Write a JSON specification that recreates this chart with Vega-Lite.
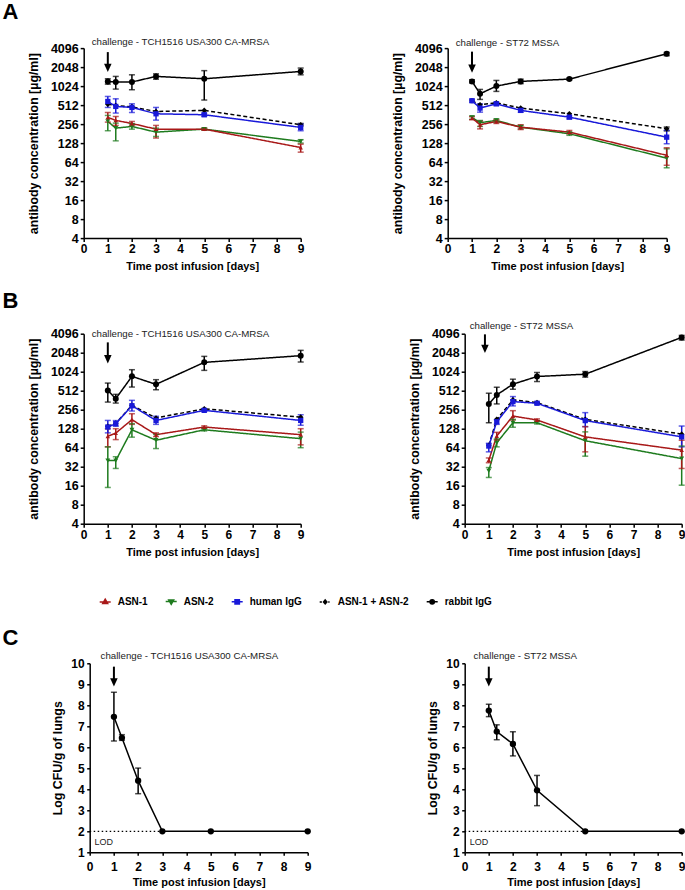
{
"$schema": "https://vega.github.io/schema/vega-lite/v6.json",
"padding": {"left": 1.7, "top": 1.1, "right": 0, "bottom": 0},
"background": "white",
"config": {
  "view": {"stroke": null},
  "font": "Liberation Sans",
  "axis": {"domainColor": "black", "domainWidth": 1.5, "tickColor": "black", "tickWidth": 1.5, "tickSize": 3.5, "labelFont": "Liberation Sans", "labelFontWeight": "bold", "labelFontSize": 12, "labelColor": "black", "labelPadding": 2, "titleFont": "Liberation Sans", "titleFontWeight": "bold", "titleFontSize": 12.4, "titleColor": "black", "grid": false, "labelFlush": false, "labelOverlap": false, "tickCount": 20},
  "legend": {"orient": "none", "legendX": 14, "legendY": 260, "direction": "horizontal", "padding": 1, "columnPadding": 14, "labelFont": "Liberation Sans", "labelFontWeight": "bold", "labelFontSize": 10, "labelColor": "black", "labelOffset": 6, "symbolSize": 121, "symbolOpacity": 1}
},
"datasets": {
  "A1": [
    {"g":"ASN-2","t":1,"v":282,"lo":201,"hi":351},{"g":"ASN-2","t":1.33,"v":221,"lo":139,"hi":265},{"g":"ASN-2","t":2,"v":235,"lo":213,"hi":260},{"g":"ASN-2","t":3,"v":191,"lo":163,"hi":221},{"g":"ASN-2","t":5,"v":213,"lo":205,"hi":221},{"g":"ASN-2","t":9,"v":136,"lo":128,"hi":145},
    {"g":"ASN-1","t":1,"v":327,"lo":275,"hi":391},{"g":"ASN-1","t":1.33,"v":293,"lo":244,"hi":338},{"g":"ASN-1","t":2,"v":262,"lo":244,"hi":282},{"g":"ASN-1","t":3,"v":213,"lo":154,"hi":244},{"g":"ASN-1","t":5,"v":213,"lo":205,"hi":221},{"g":"ASN-1","t":9,"v":109,"lo":92,"hi":123},
    {"g":"ASN-1 + ASN-2","t":1,"v":530},{"g":"ASN-1 + ASN-2","t":1.33,"v":505},{"g":"ASN-1 + ASN-2","t":2,"v":480},{"g":"ASN-1 + ASN-2","t":3,"v":406},{"g":"ASN-1 + ASN-2","t":5,"v":422},{"g":"ASN-1 + ASN-2","t":9,"v":250,"lo":240,"hi":262},
    {"g":"human IgG","t":1,"v":585,"lo":470,"hi":702},{"g":"human IgG","t":1.33,"v":488,"lo":383,"hi":644},{"g":"human IgG","t":2,"v":470,"lo":391,"hi":537},{"g":"human IgG","t":3,"v":373,"lo":296,"hi":470},{"g":"human IgG","t":5,"v":360,"lo":340,"hi":380},{"g":"human IgG","t":9,"v":227,"lo":201,"hi":256},
    {"g":"rabbit IgG","t":1,"v":1215,"lo":1100,"hi":1338},{"g":"rabbit IgG","t":1.33,"v":1190,"lo":918,"hi":1458},{"g":"rabbit IgG","t":2,"v":1190,"lo":897,"hi":1546},{"g":"rabbit IgG","t":3,"v":1458,"lo":1318,"hi":1600},{"g":"rabbit IgG","t":5,"v":1338,"lo":616,"hi":1800},{"g":"rabbit IgG","t":9,"v":1747,"lo":1546,"hi":1978}
  ],
  "A2": [
    {"g":"ASN-2","t":1,"v":326,"lo":305,"hi":345},{"g":"ASN-2","t":1.33,"v":269,"lo":235,"hi":292},{"g":"ASN-2","t":2,"v":293,"lo":275,"hi":310},{"g":"ASN-2","t":3,"v":229,"lo":215,"hi":245},{"g":"ASN-2","t":5,"v":180,"lo":170,"hi":192},{"g":"ASN-2","t":9,"v":74,"lo":52,"hi":104},
    {"g":"ASN-1","t":1,"v":319,"lo":300,"hi":335},{"g":"ASN-1","t":1.33,"v":250,"lo":215,"hi":285},{"g":"ASN-1","t":2,"v":282,"lo":262,"hi":300},{"g":"ASN-1","t":3,"v":229,"lo":210,"hi":250},{"g":"ASN-1","t":5,"v":191,"lo":180,"hi":203},{"g":"ASN-1","t":9,"v":82,"lo":57,"hi":108},
    {"g":"ASN-1 + ASN-2","t":1,"v":600},{"g":"ASN-1 + ASN-2","t":1.33,"v":518},{"g":"ASN-1 + ASN-2","t":2,"v":556},{"g":"ASN-1 + ASN-2","t":3,"v":459},{"g":"ASN-1 + ASN-2","t":5,"v":373},{"g":"ASN-1 + ASN-2","t":9,"v":216,"lo":200,"hi":230},
    {"g":"human IgG","t":1,"v":600,"lo":570,"hi":630},{"g":"human IgG","t":1.33,"v":459,"lo":396,"hi":537},{"g":"human IgG","t":2,"v":537,"lo":505,"hi":570},{"g":"human IgG","t":3,"v":422,"lo":395,"hi":450},{"g":"human IgG","t":5,"v":330,"lo":310,"hi":345},{"g":"human IgG","t":9,"v":159,"lo":125,"hi":204},
    {"g":"rabbit IgG","t":1,"v":1215,"lo":1150,"hi":1290},{"g":"rabbit IgG","t":1.33,"v":774,"lo":630,"hi":907},{"g":"rabbit IgG","t":2,"v":1024,"lo":844,"hi":1259},{"g":"rabbit IgG","t":3,"v":1215,"lo":1120,"hi":1320},{"g":"rabbit IgG","t":5,"v":1322,"lo":1280,"hi":1370},{"g":"rabbit IgG","t":9,"v":3330,"lo":3100,"hi":3500}
  ],
  "B1": [
    {"g":"ASN-2","t":1,"v":40,"lo":15,"hi":66},{"g":"ASN-2","t":1.33,"v":40,"lo":30,"hi":46},{"g":"ASN-2","t":2,"v":123,"lo":94,"hi":154},{"g":"ASN-2","t":3,"v":84,"lo":62,"hi":104},{"g":"ASN-2","t":5,"v":123,"lo":118,"hi":128},{"g":"ASN-2","t":9,"v":89,"lo":64,"hi":113},
    {"g":"ASN-1","t":1,"v":97,"lo":66,"hi":128},{"g":"ASN-1","t":1.33,"v":109,"lo":86,"hi":128},{"g":"ASN-1","t":2,"v":178,"lo":150,"hi":221},{"g":"ASN-1","t":3,"v":103,"lo":96,"hi":110},{"g":"ASN-1","t":5,"v":136,"lo":130,"hi":142},{"g":"ASN-1","t":9,"v":103,"lo":71,"hi":128},
    {"g":"ASN-1 + ASN-2","t":1,"v":140},{"g":"ASN-1 + ASN-2","t":1.33,"v":155},{"g":"ASN-1 + ASN-2","t":2,"v":300},{"g":"ASN-1 + ASN-2","t":3,"v":189},{"g":"ASN-1 + ASN-2","t":5,"v":265},{"g":"ASN-1 + ASN-2","t":9,"v":195},
    {"g":"human IgG","t":1,"v":136,"lo":110,"hi":173},{"g":"human IgG","t":1.33,"v":154,"lo":140,"hi":172},{"g":"human IgG","t":2,"v":296,"lo":244,"hi":360},{"g":"human IgG","t":3,"v":173,"lo":150,"hi":201},{"g":"human IgG","t":5,"v":250,"lo":240,"hi":262},{"g":"human IgG","t":9,"v":173,"lo":145,"hi":213},
    {"g":"rabbit IgG","t":1,"v":518,"lo":338,"hi":676},{"g":"rabbit IgG","t":1.33,"v":382,"lo":326,"hi":448},{"g":"rabbit IgG","t":2,"v":864,"lo":585,"hi":1101},{"g":"rabbit IgG","t":3,"v":645,"lo":530,"hi":765},{"g":"rabbit IgG","t":5,"v":1439,"lo":1075,"hi":1791},{"g":"rabbit IgG","t":9,"v":1836,"lo":1458,"hi":2230}
  ],
  "B2": [
    {"g":"ASN-2","t":1,"v":27.5,"lo":21.6,"hi":31},{"g":"ASN-2","t":1.33,"v":76.6,"lo":66,"hi":88},{"g":"ASN-2","t":2,"v":159,"lo":135,"hi":180},{"g":"ASN-2","t":3,"v":159,"lo":152,"hi":166},{"g":"ASN-2","t":5,"v":82.5,"lo":47,"hi":114},{"g":"ASN-2","t":9,"v":43,"lo":16.3,"hi":68},
    {"g":"ASN-1","t":1,"v":40.6,"lo":37,"hi":44},{"g":"ASN-1","t":1.33,"v":98,"lo":85,"hi":112},{"g":"ASN-1","t":2,"v":203,"lo":176,"hi":247},{"g":"ASN-1","t":3,"v":176,"lo":170,"hi":183},{"g":"ASN-1","t":5,"v":95,"lo":55,"hi":138},{"g":"ASN-1","t":9,"v":58.6,"lo":30,"hi":84},
    {"g":"ASN-1 + ASN-2","t":1,"v":70},{"g":"ASN-1 + ASN-2","t":1.33,"v":180},{"g":"ASN-1 + ASN-2","t":2,"v":366},{"g":"ASN-1 + ASN-2","t":3,"v":332},{"g":"ASN-1 + ASN-2","t":5,"v":180},{"g":"ASN-1 + ASN-2","t":9,"v":105},
    {"g":"human IgG","t":1,"v":68,"lo":55,"hi":75},{"g":"human IgG","t":1.33,"v":165,"lo":150,"hi":178},{"g":"human IgG","t":2,"v":344,"lo":294,"hi":413},{"g":"human IgG","t":3,"v":324,"lo":310,"hi":338},{"g":"human IgG","t":5,"v":172,"lo":138,"hi":230},{"g":"human IgG","t":9,"v":95,"lo":66,"hi":141},
    {"g":"rabbit IgG","t":1,"v":316,"lo":159,"hi":467},{"g":"rabbit IgG","t":1.33,"v":439,"lo":316,"hi":581},{"g":"rabbit IgG","t":2,"v":649,"lo":540,"hi":779},{"g":"rabbit IgG","t":3,"v":859,"lo":715,"hi":995},{"g":"rabbit IgG","t":5,"v":935,"lo":840,"hi":1030},{"g":"rabbit IgG","t":9,"v":3580,"lo":3250,"hi":3850}
  ],
  "C1": [
    {"t":1,"v":7.45,"lo":6.3,"hi":8.62},{"t":1.33,"v":6.45,"lo":6.33,"hi":6.6},{"t":2,"v":4.41,"lo":3.79,"hi":5.01},{"t":3,"v":2},{"t":5,"v":2},{"t":9,"v":2}
  ],
  "C2": [
    {"t":1,"v":7.75,"lo":7.46,"hi":8.05},{"t":1.33,"v":6.75,"lo":6.36,"hi":7.07},{"t":2,"v":6.16,"lo":5.59,"hi":6.74},{"t":3,"v":3.95,"lo":3.22,"hi":4.66},{"t":5,"v":2},{"t":9,"v":2}
  ]
},
"spacing": 17.6,
"bounds": "full",
"resolve": {"scale": {"color": "independent", "shape": "independent", "size": "independent", "strokeDash": "independent"}, "legend": {"color": "independent"}},
"vconcat": [
 {"hconcat": [
  {
    "width": 217, "height": 190, "data": {"name": "A1"},
    "layer": [
      {"mark": {"type": "line", "strokeWidth": 1.5}, "encoding": {
        "x": {"field": "t", "type": "quantitative", "scale": {"domain": [0, 9], "nice": false, "zero": false}, "axis": {"values": [0,1,2,3,4,5,6,7,8,9], "format": "d", "tickCount": 20, "labelOverlap": false, "title": "Time post infusion [days]", "titleFontSize": 11, "titlePadding": 6}},
        "y": {"field": "v", "type": "quantitative", "scale": {"type": "log", "base": 2, "domain": [4, 4096], "nice": false}, "axis": {"values": [4,8,16,32,64,128,256,512,1024,2048,4096], "tickCount": 20, "labelOverlap": false, "format": "d", "title": "antibody concentration [µg/ml]", "titlePadding": 10, "labelFontSize": 12.5}},
        "color": {"field": "g", "type": "nominal", "scale": {"domain": ["ASN-1","ASN-2","human IgG","ASN-1 + ASN-2","rabbit IgG"], "range": ["#a81818","#1e7b1e","#1919d9","#000000","#000000"]}, "legend": null},
        "strokeDash": {"field": "g", "type": "nominal", "scale": {"domain": ["rabbit IgG","ASN-1 + ASN-2","human IgG","ASN-2","ASN-1"], "range": [[1,0],[4,2.5],[1,0],[1,0],[1,0]]}, "legend": null}
      }},
      {"mark": {"type": "rule", "strokeWidth": 1.5}, "encoding": {"x": {"field": "t", "type": "quantitative"}, "y": {"field": "lo", "type": "quantitative"}, "y2": {"field": "hi"}, "color": {"field": "g", "type": "nominal", "legend": null}}},
      {"mark": {"type": "tick", "orient": "horizontal", "size": 6, "thickness": 1.5}, "encoding": {"x": {"field": "t", "type": "quantitative"}, "y": {"field": "lo", "type": "quantitative"}, "color": {"field": "g", "type": "nominal", "legend": null}}},
      {"mark": {"type": "tick", "orient": "horizontal", "size": 6, "thickness": 1.5}, "encoding": {"x": {"field": "t", "type": "quantitative"}, "y": {"field": "hi", "type": "quantitative"}, "color": {"field": "g", "type": "nominal", "legend": null}}},
      {"mark": {"type": "point", "filled": true, "opacity": 1}, "encoding": {"x": {"field": "t", "type": "quantitative"}, "y": {"field": "v", "type": "quantitative"}, "color": {"field": "g", "type": "nominal", "legend": null},
        "shape": {"field": "g", "type": "nominal", "scale": {"domain": ["rabbit IgG","ASN-1 + ASN-2","human IgG","ASN-2","ASN-1"], "range": ["circle","diamond","square","triangle-down","triangle-up"]}, "legend": null},
        "size": {"field": "g", "type": "ordinal", "scale": {"domain": ["rabbit IgG","ASN-1 + ASN-2","human IgG","ASN-2","ASN-1"], "range": [36,20,45,38,38]}, "legend": null}}},
      {"data": {"values": [{}]}, "mark": {"type": "rule", "strokeWidth": 2, "color": "black"}, "encoding": {"x": {"datum": 1}, "y": {"datum": 3540}, "y2": {"datum": 1990}}},
      {"data": {"values": [{}]}, "mark": {"type": "point", "shape": "M-0.9,-1L0.9,-1L0,1Z", "size": 70, "filled": true, "color": "black", "opacity": 1}, "encoding": {"x": {"datum": 1}, "y": {"datum": 1990}}},
      {"data": {"values": [{}]}, "mark": {"type": "text", "text": "challenge - TCH1516 USA300 CA-MRSA", "align": "left", "baseline": "alphabetic", "fontSize": 9.7, "color": "#222"}, "encoding": {"x": {"datum": 0.33}, "y": {"datum": 4570}}},
      {"data": {"values": [{}]}, "mark": {"type": "text", "text": "A", "align": "left", "baseline": "top", "fontSize": 22, "fontWeight": "bold", "color": "black"}, "encoding": {"x": {"datum": -3.372}, "y": {"datum": 21860}}}
    ]
  },
  {
    "width": 219, "height": 190, "data": {"name": "A2"},
    "layer": [
      {"mark": {"type": "line", "strokeWidth": 1.5}, "encoding": {
        "x": {"field": "t", "type": "quantitative", "scale": {"domain": [0, 9], "nice": false, "zero": false}, "axis": {"values": [0,1,2,3,4,5,6,7,8,9], "format": "d", "tickCount": 20, "labelOverlap": false, "title": "Time post infusion [days]", "titleFontSize": 11, "titlePadding": 6}},
        "y": {"field": "v", "type": "quantitative", "scale": {"type": "log", "base": 2, "domain": [4, 4096], "nice": false}, "axis": {"values": [4,8,16,32,64,128,256,512,1024,2048,4096], "tickCount": 20, "labelOverlap": false, "format": "d", "title": "antibody concentration [µg/ml]", "titlePadding": 10, "labelFontSize": 12.5}},
        "color": {"field": "g", "type": "nominal", "legend": null},
        "strokeDash": {"field": "g", "type": "nominal", "legend": null}
      }},
      {"mark": {"type": "rule", "strokeWidth": 1.5}, "encoding": {"x": {"field": "t", "type": "quantitative"}, "y": {"field": "lo", "type": "quantitative"}, "y2": {"field": "hi"}, "color": {"field": "g", "type": "nominal", "legend": null}}},
      {"mark": {"type": "tick", "orient": "horizontal", "size": 6, "thickness": 1.5}, "encoding": {"x": {"field": "t", "type": "quantitative"}, "y": {"field": "lo", "type": "quantitative"}, "color": {"field": "g", "type": "nominal", "legend": null}}},
      {"mark": {"type": "tick", "orient": "horizontal", "size": 6, "thickness": 1.5}, "encoding": {"x": {"field": "t", "type": "quantitative"}, "y": {"field": "hi", "type": "quantitative"}, "color": {"field": "g", "type": "nominal", "legend": null}}},
      {"mark": {"type": "point", "filled": true, "opacity": 1}, "encoding": {"x": {"field": "t", "type": "quantitative"}, "y": {"field": "v", "type": "quantitative"}, "color": {"field": "g", "type": "nominal", "legend": null}, "shape": {"field": "g", "type": "nominal", "legend": null}, "size": {"field": "g", "type": "ordinal", "legend": null}}},
      {"data": {"values": [{}]}, "mark": {"type": "rule", "strokeWidth": 2, "color": "black"}, "encoding": {"x": {"datum": 1}, "y": {"datum": 3600}, "y2": {"datum": 1938}}},
      {"data": {"values": [{}]}, "mark": {"type": "point", "shape": "M-0.9,-1L0.9,-1L0,1Z", "size": 70, "filled": true, "color": "black", "opacity": 1}, "encoding": {"x": {"datum": 1}, "y": {"datum": 1938}}},
      {"data": {"values": [{}]}, "mark": {"type": "text", "text": "challenge - ST72 MSSA", "align": "left", "baseline": "alphabetic", "fontSize": 9.7, "color": "#222"}, "encoding": {"x": {"datum": 0.33}, "y": {"datum": 4500}}}
    ]
  }
 ], "spacing": 147, "bounds": "flush"},
 {"hconcat": [
  {
    "width": 217, "height": 190, "data": {"name": "B1"},
    "layer": [
      {"mark": {"type": "line", "strokeWidth": 1.5}, "encoding": {
        "x": {"field": "t", "type": "quantitative", "scale": {"domain": [0, 9], "nice": false, "zero": false}, "axis": {"values": [0,1,2,3,4,5,6,7,8,9], "format": "d", "tickCount": 20, "labelOverlap": false, "title": "Time post infusion [days]", "titleFontSize": 11, "titlePadding": 6}},
        "y": {"field": "v", "type": "quantitative", "scale": {"type": "log", "base": 2, "domain": [4, 4096], "nice": false}, "axis": {"values": [4,8,16,32,64,128,256,512,1024,2048,4096], "tickCount": 20, "labelOverlap": false, "format": "d", "title": "antibody concentration [µg/ml]", "titlePadding": 10, "labelFontSize": 12.5}},
        "color": {"field": "g", "type": "nominal", "scale": {"domain": ["ASN-1","ASN-2","human IgG","ASN-1 + ASN-2","rabbit IgG"], "range": ["#a81818","#1e7b1e","#1919d9","#000000","#000000"]},
          "legend": {"title": null, "encode": {"symbols": {"update": {"shape": {"signal": "datum.value === 'ASN-1' ? 'M-1,0L1,0M0,-0.5L0.45,0.3L-0.45,0.3Z' : datum.value === 'ASN-2' ? 'M-1,0L1,0M0,0.5L0.45,-0.3L-0.45,-0.3Z' : datum.value === 'human IgG' ? 'M-1,0L1,0M-0.4,-0.4L0.4,-0.4L0.4,0.4L-0.4,0.4Z' : datum.value === 'ASN-1 + ASN-2' ? 'M-1,0L-0.6,0M0.55,0L0.8,0M0,-0.35L0.3,0L0,0.35L-0.3,0Z' : 'M-1,0L1,0M0.4,0A0.4,0.4,0,1,1,-0.4,0A0.4,0.4,0,1,1,0.4,0Z'"}, "fill": {"signal": "datum.value === 'ASN-1' ? '#a81818' : datum.value === 'ASN-2' ? '#1e7b1e' : datum.value === 'human IgG' ? '#1919d9' : '#000000'"}, "stroke": {"signal": "datum.value === 'ASN-1' ? '#a81818' : datum.value === 'ASN-2' ? '#1e7b1e' : datum.value === 'human IgG' ? '#1919d9' : '#000000'"}, "strokeWidth": {"value": 1.5}, "opacity": {"value": 1}, "fillOpacity": {"value": 1}, "strokeOpacity": {"value": 1}}}}}},
        "strokeDash": {"field": "g", "type": "nominal", "scale": {"domain": ["rabbit IgG","ASN-1 + ASN-2","human IgG","ASN-2","ASN-1"], "range": [[1,0],[4,2.5],[1,0],[1,0],[1,0]]}, "legend": null}
      }},
      {"mark": {"type": "rule", "strokeWidth": 1.5}, "encoding": {"x": {"field": "t", "type": "quantitative"}, "y": {"field": "lo", "type": "quantitative"}, "y2": {"field": "hi"}, "color": {"field": "g", "type": "nominal",
          "legend": {"title": null, "encode": {"symbols": {"update": {"shape": {"signal": "datum.value === 'ASN-1' ? 'M-1,0L1,0M0,-0.5L0.45,0.3L-0.45,0.3Z' : datum.value === 'ASN-2' ? 'M-1,0L1,0M0,0.5L0.45,-0.3L-0.45,-0.3Z' : datum.value === 'human IgG' ? 'M-1,0L1,0M-0.4,-0.4L0.4,-0.4L0.4,0.4L-0.4,0.4Z' : datum.value === 'ASN-1 + ASN-2' ? 'M-1,0L-0.6,0M0.55,0L0.8,0M0,-0.35L0.3,0L0,0.35L-0.3,0Z' : 'M-1,0L1,0M0.4,0A0.4,0.4,0,1,1,-0.4,0A0.4,0.4,0,1,1,0.4,0Z'"}, "fill": {"signal": "datum.value === 'ASN-1' ? '#a81818' : datum.value === 'ASN-2' ? '#1e7b1e' : datum.value === 'human IgG' ? '#1919d9' : '#000000'"}, "stroke": {"signal": "datum.value === 'ASN-1' ? '#a81818' : datum.value === 'ASN-2' ? '#1e7b1e' : datum.value === 'human IgG' ? '#1919d9' : '#000000'"}, "strokeWidth": {"value": 1.5}, "opacity": {"value": 1}, "fillOpacity": {"value": 1}, "strokeOpacity": {"value": 1}}}}}}}},
      {"mark": {"type": "tick", "orient": "horizontal", "size": 6, "thickness": 1.5}, "encoding": {"x": {"field": "t", "type": "quantitative"}, "y": {"field": "lo", "type": "quantitative"}, "color": {"field": "g", "type": "nominal",
          "legend": {"title": null, "encode": {"symbols": {"update": {"shape": {"signal": "datum.value === 'ASN-1' ? 'M-1,0L1,0M0,-0.5L0.45,0.3L-0.45,0.3Z' : datum.value === 'ASN-2' ? 'M-1,0L1,0M0,0.5L0.45,-0.3L-0.45,-0.3Z' : datum.value === 'human IgG' ? 'M-1,0L1,0M-0.4,-0.4L0.4,-0.4L0.4,0.4L-0.4,0.4Z' : datum.value === 'ASN-1 + ASN-2' ? 'M-1,0L-0.6,0M0.55,0L0.8,0M0,-0.35L0.3,0L0,0.35L-0.3,0Z' : 'M-1,0L1,0M0.4,0A0.4,0.4,0,1,1,-0.4,0A0.4,0.4,0,1,1,0.4,0Z'"}, "fill": {"signal": "datum.value === 'ASN-1' ? '#a81818' : datum.value === 'ASN-2' ? '#1e7b1e' : datum.value === 'human IgG' ? '#1919d9' : '#000000'"}, "stroke": {"signal": "datum.value === 'ASN-1' ? '#a81818' : datum.value === 'ASN-2' ? '#1e7b1e' : datum.value === 'human IgG' ? '#1919d9' : '#000000'"}, "strokeWidth": {"value": 1.5}, "opacity": {"value": 1}, "fillOpacity": {"value": 1}, "strokeOpacity": {"value": 1}}}}}}}},
      {"mark": {"type": "tick", "orient": "horizontal", "size": 6, "thickness": 1.5}, "encoding": {"x": {"field": "t", "type": "quantitative"}, "y": {"field": "hi", "type": "quantitative"}, "color": {"field": "g", "type": "nominal",
          "legend": {"title": null, "encode": {"symbols": {"update": {"shape": {"signal": "datum.value === 'ASN-1' ? 'M-1,0L1,0M0,-0.5L0.45,0.3L-0.45,0.3Z' : datum.value === 'ASN-2' ? 'M-1,0L1,0M0,0.5L0.45,-0.3L-0.45,-0.3Z' : datum.value === 'human IgG' ? 'M-1,0L1,0M-0.4,-0.4L0.4,-0.4L0.4,0.4L-0.4,0.4Z' : datum.value === 'ASN-1 + ASN-2' ? 'M-1,0L-0.6,0M0.55,0L0.8,0M0,-0.35L0.3,0L0,0.35L-0.3,0Z' : 'M-1,0L1,0M0.4,0A0.4,0.4,0,1,1,-0.4,0A0.4,0.4,0,1,1,0.4,0Z'"}, "fill": {"signal": "datum.value === 'ASN-1' ? '#a81818' : datum.value === 'ASN-2' ? '#1e7b1e' : datum.value === 'human IgG' ? '#1919d9' : '#000000'"}, "stroke": {"signal": "datum.value === 'ASN-1' ? '#a81818' : datum.value === 'ASN-2' ? '#1e7b1e' : datum.value === 'human IgG' ? '#1919d9' : '#000000'"}, "strokeWidth": {"value": 1.5}, "opacity": {"value": 1}, "fillOpacity": {"value": 1}, "strokeOpacity": {"value": 1}}}}}}}},
      {"mark": {"type": "point", "filled": true, "opacity": 1}, "encoding": {"x": {"field": "t", "type": "quantitative"}, "y": {"field": "v", "type": "quantitative"}, "color": {"field": "g", "type": "nominal",
          "legend": {"title": null, "encode": {"symbols": {"update": {"shape": {"signal": "datum.value === 'ASN-1' ? 'M-1,0L1,0M0,-0.5L0.45,0.3L-0.45,0.3Z' : datum.value === 'ASN-2' ? 'M-1,0L1,0M0,0.5L0.45,-0.3L-0.45,-0.3Z' : datum.value === 'human IgG' ? 'M-1,0L1,0M-0.4,-0.4L0.4,-0.4L0.4,0.4L-0.4,0.4Z' : datum.value === 'ASN-1 + ASN-2' ? 'M-1,0L-0.6,0M0.55,0L0.8,0M0,-0.35L0.3,0L0,0.35L-0.3,0Z' : 'M-1,0L1,0M0.4,0A0.4,0.4,0,1,1,-0.4,0A0.4,0.4,0,1,1,0.4,0Z'"}, "fill": {"signal": "datum.value === 'ASN-1' ? '#a81818' : datum.value === 'ASN-2' ? '#1e7b1e' : datum.value === 'human IgG' ? '#1919d9' : '#000000'"}, "stroke": {"signal": "datum.value === 'ASN-1' ? '#a81818' : datum.value === 'ASN-2' ? '#1e7b1e' : datum.value === 'human IgG' ? '#1919d9' : '#000000'"}, "strokeWidth": {"value": 1.5}, "opacity": {"value": 1}, "fillOpacity": {"value": 1}, "strokeOpacity": {"value": 1}}}}}},
        "shape": {"field": "g", "type": "nominal", "scale": {"domain": ["rabbit IgG","ASN-1 + ASN-2","human IgG","ASN-2","ASN-1"], "range": ["circle","diamond","square","triangle-down","triangle-up"]}, "legend": null},
        "size": {"field": "g", "type": "ordinal", "scale": {"domain": ["rabbit IgG","ASN-1 + ASN-2","human IgG","ASN-2","ASN-1"], "range": [36,20,45,38,38]}, "legend": null}}},
      {"data": {"values": [{}]}, "mark": {"type": "rule", "strokeWidth": 2, "color": "black"}, "encoding": {"x": {"datum": 1}, "y": {"datum": 2985}, "y2": {"datum": 1616}}},
      {"data": {"values": [{}]}, "mark": {"type": "point", "shape": "M-0.9,-1L0.9,-1L0,1Z", "size": 70, "filled": true, "color": "black", "opacity": 1}, "encoding": {"x": {"datum": 1}, "y": {"datum": 1616}}},
      {"data": {"values": [{}]}, "mark": {"type": "text", "text": "challenge  - TCH1516 USA300 CA-MRSA", "align": "left", "baseline": "alphabetic", "fontSize": 9.7, "color": "#222"}, "encoding": {"x": {"datum": 0.33}, "y": {"datum": 3670}}},
      {"data": {"values": [{}]}, "mark": {"type": "text", "text": "B", "align": "left", "baseline": "top", "fontSize": 22, "fontWeight": "bold", "color": "black"}, "encoding": {"x": {"datum": -3.372}, "y": {"datum": 19380}}}
    ]
  },
  {
    "width": 217, "height": 190, "data": {"name": "B2"},
    "layer": [
      {"mark": {"type": "line", "strokeWidth": 1.5}, "encoding": {
        "x": {"field": "t", "type": "quantitative", "scale": {"domain": [0, 9], "nice": false, "zero": false}, "axis": {"values": [0,1,2,3,4,5,6,7,8,9], "format": "d", "tickCount": 20, "labelOverlap": false, "title": "Time post infusion [days]", "titleFontSize": 11, "titlePadding": 6}},
        "y": {"field": "v", "type": "quantitative", "scale": {"type": "log", "base": 2, "domain": [4, 4096], "nice": false}, "axis": {"values": [4,8,16,32,64,128,256,512,1024,2048,4096], "tickCount": 20, "labelOverlap": false, "format": "d", "title": "antibody concentration [µg/ml]", "titlePadding": 10, "labelFontSize": 12.5}},
        "color": {"field": "g", "type": "nominal",
          "legend": {"title": null, "encode": {"symbols": {"update": {"shape": {"signal": "datum.value === 'ASN-1' ? 'M-1,0L1,0M0,-0.5L0.45,0.3L-0.45,0.3Z' : datum.value === 'ASN-2' ? 'M-1,0L1,0M0,0.5L0.45,-0.3L-0.45,-0.3Z' : datum.value === 'human IgG' ? 'M-1,0L1,0M-0.4,-0.4L0.4,-0.4L0.4,0.4L-0.4,0.4Z' : datum.value === 'ASN-1 + ASN-2' ? 'M-1,0L-0.6,0M0.55,0L0.8,0M0,-0.35L0.3,0L0,0.35L-0.3,0Z' : 'M-1,0L1,0M0.4,0A0.4,0.4,0,1,1,-0.4,0A0.4,0.4,0,1,1,0.4,0Z'"}, "fill": {"signal": "datum.value === 'ASN-1' ? '#a81818' : datum.value === 'ASN-2' ? '#1e7b1e' : datum.value === 'human IgG' ? '#1919d9' : '#000000'"}, "stroke": {"signal": "datum.value === 'ASN-1' ? '#a81818' : datum.value === 'ASN-2' ? '#1e7b1e' : datum.value === 'human IgG' ? '#1919d9' : '#000000'"}, "strokeWidth": {"value": 1.5}, "opacity": {"value": 1}, "fillOpacity": {"value": 1}, "strokeOpacity": {"value": 1}}}}}},
        "strokeDash": {"field": "g", "type": "nominal", "legend": null}
      }},
      {"mark": {"type": "rule", "strokeWidth": 1.5}, "encoding": {"x": {"field": "t", "type": "quantitative"}, "y": {"field": "lo", "type": "quantitative"}, "y2": {"field": "hi"}, "color": {"field": "g", "type": "nominal",
          "legend": {"title": null, "encode": {"symbols": {"update": {"shape": {"signal": "datum.value === 'ASN-1' ? 'M-1,0L1,0M0,-0.5L0.45,0.3L-0.45,0.3Z' : datum.value === 'ASN-2' ? 'M-1,0L1,0M0,0.5L0.45,-0.3L-0.45,-0.3Z' : datum.value === 'human IgG' ? 'M-1,0L1,0M-0.4,-0.4L0.4,-0.4L0.4,0.4L-0.4,0.4Z' : datum.value === 'ASN-1 + ASN-2' ? 'M-1,0L-0.6,0M0.55,0L0.8,0M0,-0.35L0.3,0L0,0.35L-0.3,0Z' : 'M-1,0L1,0M0.4,0A0.4,0.4,0,1,1,-0.4,0A0.4,0.4,0,1,1,0.4,0Z'"}, "fill": {"signal": "datum.value === 'ASN-1' ? '#a81818' : datum.value === 'ASN-2' ? '#1e7b1e' : datum.value === 'human IgG' ? '#1919d9' : '#000000'"}, "stroke": {"signal": "datum.value === 'ASN-1' ? '#a81818' : datum.value === 'ASN-2' ? '#1e7b1e' : datum.value === 'human IgG' ? '#1919d9' : '#000000'"}, "strokeWidth": {"value": 1.5}, "opacity": {"value": 1}, "fillOpacity": {"value": 1}, "strokeOpacity": {"value": 1}}}}}}}},
      {"mark": {"type": "tick", "orient": "horizontal", "size": 6, "thickness": 1.5}, "encoding": {"x": {"field": "t", "type": "quantitative"}, "y": {"field": "lo", "type": "quantitative"}, "color": {"field": "g", "type": "nominal",
          "legend": {"title": null, "encode": {"symbols": {"update": {"shape": {"signal": "datum.value === 'ASN-1' ? 'M-1,0L1,0M0,-0.5L0.45,0.3L-0.45,0.3Z' : datum.value === 'ASN-2' ? 'M-1,0L1,0M0,0.5L0.45,-0.3L-0.45,-0.3Z' : datum.value === 'human IgG' ? 'M-1,0L1,0M-0.4,-0.4L0.4,-0.4L0.4,0.4L-0.4,0.4Z' : datum.value === 'ASN-1 + ASN-2' ? 'M-1,0L-0.6,0M0.55,0L0.8,0M0,-0.35L0.3,0L0,0.35L-0.3,0Z' : 'M-1,0L1,0M0.4,0A0.4,0.4,0,1,1,-0.4,0A0.4,0.4,0,1,1,0.4,0Z'"}, "fill": {"signal": "datum.value === 'ASN-1' ? '#a81818' : datum.value === 'ASN-2' ? '#1e7b1e' : datum.value === 'human IgG' ? '#1919d9' : '#000000'"}, "stroke": {"signal": "datum.value === 'ASN-1' ? '#a81818' : datum.value === 'ASN-2' ? '#1e7b1e' : datum.value === 'human IgG' ? '#1919d9' : '#000000'"}, "strokeWidth": {"value": 1.5}, "opacity": {"value": 1}, "fillOpacity": {"value": 1}, "strokeOpacity": {"value": 1}}}}}}}},
      {"mark": {"type": "tick", "orient": "horizontal", "size": 6, "thickness": 1.5}, "encoding": {"x": {"field": "t", "type": "quantitative"}, "y": {"field": "hi", "type": "quantitative"}, "color": {"field": "g", "type": "nominal",
          "legend": {"title": null, "encode": {"symbols": {"update": {"shape": {"signal": "datum.value === 'ASN-1' ? 'M-1,0L1,0M0,-0.5L0.45,0.3L-0.45,0.3Z' : datum.value === 'ASN-2' ? 'M-1,0L1,0M0,0.5L0.45,-0.3L-0.45,-0.3Z' : datum.value === 'human IgG' ? 'M-1,0L1,0M-0.4,-0.4L0.4,-0.4L0.4,0.4L-0.4,0.4Z' : datum.value === 'ASN-1 + ASN-2' ? 'M-1,0L-0.6,0M0.55,0L0.8,0M0,-0.35L0.3,0L0,0.35L-0.3,0Z' : 'M-1,0L1,0M0.4,0A0.4,0.4,0,1,1,-0.4,0A0.4,0.4,0,1,1,0.4,0Z'"}, "fill": {"signal": "datum.value === 'ASN-1' ? '#a81818' : datum.value === 'ASN-2' ? '#1e7b1e' : datum.value === 'human IgG' ? '#1919d9' : '#000000'"}, "stroke": {"signal": "datum.value === 'ASN-1' ? '#a81818' : datum.value === 'ASN-2' ? '#1e7b1e' : datum.value === 'human IgG' ? '#1919d9' : '#000000'"}, "strokeWidth": {"value": 1.5}, "opacity": {"value": 1}, "fillOpacity": {"value": 1}, "strokeOpacity": {"value": 1}}}}}}}},
      {"mark": {"type": "point", "filled": true, "opacity": 1}, "encoding": {"x": {"field": "t", "type": "quantitative"}, "y": {"field": "v", "type": "quantitative"}, "color": {"field": "g", "type": "nominal",
          "legend": {"title": null, "encode": {"symbols": {"update": {"shape": {"signal": "datum.value === 'ASN-1' ? 'M-1,0L1,0M0,-0.5L0.45,0.3L-0.45,0.3Z' : datum.value === 'ASN-2' ? 'M-1,0L1,0M0,0.5L0.45,-0.3L-0.45,-0.3Z' : datum.value === 'human IgG' ? 'M-1,0L1,0M-0.4,-0.4L0.4,-0.4L0.4,0.4L-0.4,0.4Z' : datum.value === 'ASN-1 + ASN-2' ? 'M-1,0L-0.6,0M0.55,0L0.8,0M0,-0.35L0.3,0L0,0.35L-0.3,0Z' : 'M-1,0L1,0M0.4,0A0.4,0.4,0,1,1,-0.4,0A0.4,0.4,0,1,1,0.4,0Z'"}, "fill": {"signal": "datum.value === 'ASN-1' ? '#a81818' : datum.value === 'ASN-2' ? '#1e7b1e' : datum.value === 'human IgG' ? '#1919d9' : '#000000'"}, "stroke": {"signal": "datum.value === 'ASN-1' ? '#a81818' : datum.value === 'ASN-2' ? '#1e7b1e' : datum.value === 'human IgG' ? '#1919d9' : '#000000'"}, "strokeWidth": {"value": 1.5}, "opacity": {"value": 1}, "fillOpacity": {"value": 1}, "strokeOpacity": {"value": 1}}}}}},
        "shape": {"field": "g", "type": "nominal", "legend": null}, "size": {"field": "g", "type": "ordinal", "legend": null}}},
      {"data": {"values": [{}]}, "mark": {"type": "rule", "strokeWidth": 2, "color": "black"}, "encoding": {"x": {"datum": 0.84}, "y": {"datum": 4000}, "y2": {"datum": 2360}}},
      {"data": {"values": [{}]}, "mark": {"type": "point", "shape": "M-0.9,-1L0.9,-1L0,1Z", "size": 70, "filled": true, "color": "black", "opacity": 1}, "encoding": {"x": {"datum": 0.84}, "y": {"datum": 2360}}},
      {"data": {"values": [{}]}, "mark": {"type": "text", "text": "challenge - ST72 MSSA", "align": "left", "baseline": "alphabetic", "fontSize": 9.7, "color": "#222"}, "encoding": {"x": {"datum": 0.21}, "y": {"datum": 4916}}}
    ]
  }
 ], "spacing": 164, "bounds": "flush"},
 {"hconcat": [
  {"width": 6, "height": 189, "data": {"values": []}, "mark": "point"},
  {
    "width": 218, "height": 189, "data": {"name": "C1"},
    "layer": [
      {"mark": {"type": "line", "strokeWidth": 1.5, "color": "black"}, "encoding": {
        "x": {"field": "t", "type": "quantitative", "scale": {"domain": [0, 9], "nice": false, "zero": false}, "axis": {"values": [0,1,2,3,4,5,6,7,8,9], "format": "d", "tickCount": 20, "labelOverlap": false, "title": "Time post infusion [days]", "titleFontSize": 11, "titlePadding": 4, "tickSize": 3, "labelPadding": 6}},
        "y": {"field": "v", "type": "quantitative", "scale": {"domain": [1, 10], "nice": false, "zero": false}, "axis": {"values": [1,2,3,4,5,6,7,8,9,10], "format": "d", "tickCount": 20, "labelOverlap": false, "title": "Log CFU/g of lungs", "titlePadding": 6.5, "tickSize": 3, "labelPadding": 2.5}}
      }},
      {"data": {"values": [{}]}, "mark": {"type": "rule", "strokeWidth": 1.3, "strokeDash": [1.5, 2.5], "color": "black"}, "encoding": {"x": {"datum": 0}, "x2": {"datum": 3}, "y": {"datum": 2}}},
      {"mark": {"type": "rule", "strokeWidth": 1.5, "color": "black"}, "encoding": {"x": {"field": "t", "type": "quantitative"}, "y": {"field": "lo", "type": "quantitative"}, "y2": {"field": "hi"}}},
      {"mark": {"type": "tick", "orient": "horizontal", "size": 6, "thickness": 1.5, "color": "black"}, "encoding": {"x": {"field": "t", "type": "quantitative"}, "y": {"field": "lo", "type": "quantitative"}}},
      {"mark": {"type": "tick", "orient": "horizontal", "size": 6, "thickness": 1.5, "color": "black"}, "encoding": {"x": {"field": "t", "type": "quantitative"}, "y": {"field": "hi", "type": "quantitative"}}},
      {"mark": {"type": "point", "filled": true, "opacity": 1, "color": "black", "shape": "circle", "size": 40}, "encoding": {"x": {"field": "t", "type": "quantitative"}, "y": {"field": "v", "type": "quantitative"}}},
      {"data": {"values": [{}]}, "mark": {"type": "text", "text": "LOD", "align": "left", "baseline": "alphabetic", "fontSize": 9, "color": "#222"}, "encoding": {"x": {"datum": 0.2}, "y": {"datum": 1.33}}},
      {"data": {"values": [{}]}, "mark": {"type": "rule", "strokeWidth": 2, "color": "black"}, "encoding": {"x": {"datum": 1}, "y": {"datum": 9.84}, "y2": {"datum": 9.09}}},
      {"data": {"values": [{}]}, "mark": {"type": "point", "shape": "M-0.9,-1L0.9,-1L0,1Z", "size": 70, "filled": true, "color": "black", "opacity": 1}, "encoding": {"x": {"datum": 1}, "y": {"datum": 9.09}}},
      {"data": {"values": [{}]}, "mark": {"type": "text", "text": "challenge - TCH1516 USA300 CA-MRSA", "align": "left", "baseline": "alphabetic", "fontSize": 9.7, "color": "#222"}, "encoding": {"x": {"datum": 0.45}, "y": {"datum": 10.19}}},
      {"data": {"values": [{}]}, "mark": {"type": "text", "text": "C", "align": "left", "baseline": "top", "fontSize": 22, "fontWeight": "bold", "color": "black"}, "encoding": {"x": {"datum": -3.604}, "y": {"datum": 11.667}}}
    ]
  },
  {"width": 157, "height": 189, "data": {"values": []}, "mark": "point"},
  {
    "width": 217, "height": 189, "data": {"name": "C2"},
    "layer": [
      {"mark": {"type": "line", "strokeWidth": 1.5, "color": "black"}, "encoding": {
        "x": {"field": "t", "type": "quantitative", "scale": {"domain": [0, 9], "nice": false, "zero": false}, "axis": {"values": [0,1,2,3,4,5,6,7,8,9], "format": "d", "tickCount": 20, "labelOverlap": false, "title": "Time post infusion [days]", "titleFontSize": 11, "titlePadding": 4, "tickSize": 3, "labelPadding": 6}},
        "y": {"field": "v", "type": "quantitative", "scale": {"domain": [1, 10], "nice": false, "zero": false}, "axis": {"values": [1,2,3,4,5,6,7,8,9,10], "format": "d", "tickCount": 20, "labelOverlap": false, "title": "Log CFU/g of lungs", "titlePadding": 6.5, "tickSize": 3, "labelPadding": 2.5}}
      }},
      {"data": {"values": [{}]}, "mark": {"type": "rule", "strokeWidth": 1.3, "strokeDash": [1.5, 2.5], "color": "black"}, "encoding": {"x": {"datum": 0}, "x2": {"datum": 5}, "y": {"datum": 2}}},
      {"mark": {"type": "rule", "strokeWidth": 1.5, "color": "black"}, "encoding": {"x": {"field": "t", "type": "quantitative"}, "y": {"field": "lo", "type": "quantitative"}, "y2": {"field": "hi"}}},
      {"mark": {"type": "tick", "orient": "horizontal", "size": 6, "thickness": 1.5, "color": "black"}, "encoding": {"x": {"field": "t", "type": "quantitative"}, "y": {"field": "lo", "type": "quantitative"}}},
      {"mark": {"type": "tick", "orient": "horizontal", "size": 6, "thickness": 1.5, "color": "black"}, "encoding": {"x": {"field": "t", "type": "quantitative"}, "y": {"field": "hi", "type": "quantitative"}}},
      {"mark": {"type": "point", "filled": true, "opacity": 1, "color": "black", "shape": "circle", "size": 40}, "encoding": {"x": {"field": "t", "type": "quantitative"}, "y": {"field": "v", "type": "quantitative"}}},
      {"data": {"values": [{}]}, "mark": {"type": "text", "text": "LOD", "align": "left", "baseline": "alphabetic", "fontSize": 9, "color": "#222"}, "encoding": {"x": {"datum": 0.21}, "y": {"datum": 1.33}}},
      {"data": {"values": [{}]}, "mark": {"type": "rule", "strokeWidth": 2, "color": "black"}, "encoding": {"x": {"datum": 1}, "y": {"datum": 9.84}, "y2": {"datum": 9.09}}},
      {"data": {"values": [{}]}, "mark": {"type": "point", "shape": "M-0.9,-1L0.9,-1L0,1Z", "size": 70, "filled": true, "color": "black", "opacity": 1}, "encoding": {"x": {"datum": 1}, "y": {"datum": 9.09}}},
      {"data": {"values": [{}]}, "mark": {"type": "text", "text": "challenge - ST72 MSSA", "align": "left", "baseline": "alphabetic", "fontSize": 9.7, "color": "#222"}, "encoding": {"x": {"datum": 0.37}, "y": {"datum": 10.19}}}
    ]
  }
 ], "spacing": 0, "bounds": "flush"}
]
}
